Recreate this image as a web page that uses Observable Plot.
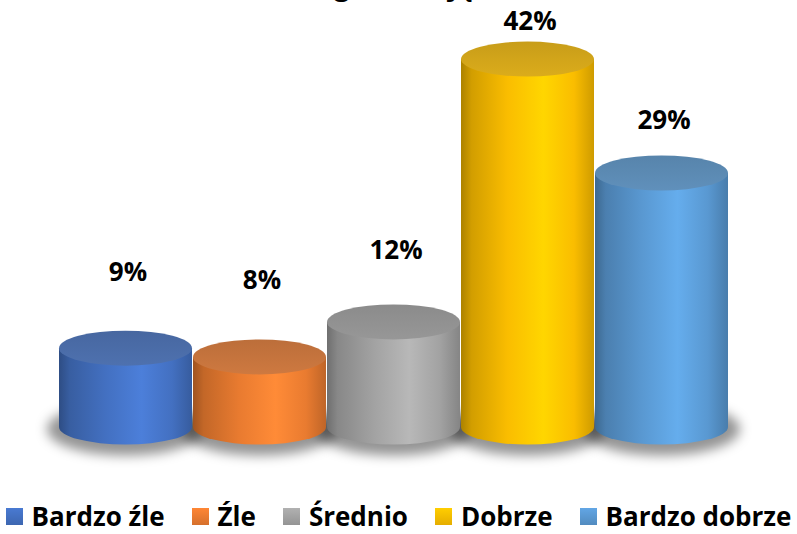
<!DOCTYPE html>
<html>
<head>
<meta charset="utf-8">
<script src="https://cdn.jsdelivr.net/npm/d3@7"></script>
<script src="https://cdn.jsdelivr.net/npm/@observablehq/plot@0.6"></script>
<style>
  body { margin: 0; background: #fff; font-family: "Open Sans", sans-serif; }
  #legend { display: flex; justify-content: center; align-items: center; gap: 27px;
            height: 36px; padding-top: 18px;
            font-weight: 700; font-size: 26px; color: #000; white-space: nowrap; }
  .item { display: flex; align-items: center; gap: 9px; }
  .sw { width: 17px; height: 17px; }
</style>
</head>
<body>
<div id="chart"></div>
<div id="legend"></div>
<script>
const title = "Ocena ogólna zajęć";
const categories = ["Bardzo źle", "Źle", "Średnio", "Dobrze", "Bardzo dobrze"];
const values = [9, 8, 12, 42, 29];
const labels = ["9%", "8%", "12%", "42%", "29%"];
const colors = ["#4472C4", "#ED7D31", "#A5A5A5", "#FFC000", "#5B9BD5"];

const data = categories.map((c, i) => ({category: c, value: values[i], label: labels[i], color: colors[i]}));

const RY = 17.5;

function cylinders(index, scales) {
  const sx = scales.x, sy = scales.y;
  const bw = typeof sx.bandwidth === "function" ? sx.bandwidth() : sx.bandwidth;
  const g = d3.create("svg:g");
  const defs = g.append("defs");
  const f = defs.append("filter").attr("id", "cylShadow")
    .attr("x", "-30%").attr("y", "-60%").attr("width", "160%").attr("height", "220%");
  f.append("feGaussianBlur").attr("stdDeviation", 6);

  data.forEach((d, i) => {
    const c = d3.color(d.color);
    const body = defs.append("linearGradient").attr("id", "body" + i)
      .attr("x1", 0).attr("x2", 1).attr("y1", 0).attr("y2", 0);
    [[0, c.darker(1.1)], [0.08, c.darker(0.55)], [0.35, c.darker(0.05)], [0.62, c.brighter(0.3)],
     [0.85, c.darker(0.05)], [1, c.darker(0.6)]].forEach(([o, col]) =>
      body.append("stop").attr("offset", o).attr("stop-color", col.formatHex()));
    const muted = d3.color(d3.interpolateRgb(d.color, "#7f7f7f")(0.22));
    const top = defs.append("linearGradient").attr("id", "top" + i)
      .attr("x1", 0).attr("x2", 0).attr("y1", 0).attr("y2", 1);
    [[0, muted.darker(0.35)], [1, muted.darker(0.1)]].forEach(([o, col]) =>
      top.append("stop").attr("offset", o).attr("stop-color", col.formatHex()));
  });

  const base = sy(0);
  // floor shadows
  data.forEach((d) => {
    const cx = sx(d.category) + bw / 2;
    g.append("ellipse").attr("cx", cx).attr("cy", base + 2)
      .attr("rx", bw / 2 + 12).attr("ry", RY + 9)
      .attr("fill", "#000").attr("fill-opacity", 0.42)
      .attr("filter", "url(#cylShadow)");
  });
  // cylinders
  data.forEach((d, i) => {
    const x0 = sx(d.category), x1 = x0 + bw, cx = x0 + bw / 2, rx = bw / 2;
    const yt = sy(d.value);
    g.append("path")
      .attr("d", `M${x0},${yt}L${x0},${base}A${rx},${RY} 0 0 0 ${x1},${base}L${x1},${yt}Z`)
      .attr("fill", `url(#body${i})`);
    g.append("ellipse").attr("cx", cx).attr("cy", yt).attr("rx", rx).attr("ry", RY)
      .attr("fill", `url(#top${i})`);
  });
  return g.node();
}

const chart = Plot.plot({
  width: 797,
  height: 480,
  marginLeft: 58,
  marginRight: 67,
  marginTop: 0,
  marginBottom: 0,
  style: {fontFamily: "Open Sans, sans-serif", background: "#fff"},
  x: {type: "band", domain: categories, paddingInner: 0.006, paddingOuter: 0, axis: null},
  y: {domain: [0, 50], range: [427, 427 - 50 * 8.76], axis: null},
  marks: [
    cylinders,
    Plot.text(data, {x: "category", y: d => d.value * 0.87 + 9.8, text: "label",
      fontSize: 26, fontWeight: 700, fill: "#000", dx: 2, lineAnchor: "middle"}),
    Plot.text([title], {frameAnchor: "top", lineAnchor: "bottom", dy: -6, dx: -40,
      fontSize: 28, fontWeight: 700, fill: "#000"})
  ]
});
document.getElementById("chart").appendChild(chart);

const legend = document.getElementById("legend");
data.forEach(d => {
  const c = d3.color(d.color);
  const item = document.createElement("div");
  item.className = "item";
  const sw = document.createElement("span");
  sw.className = "sw";
  sw.style.background = `linear-gradient(to bottom, ${c.brighter(0.2).formatHex()}, ${c.darker(0.3).formatHex()})`;
  const t = document.createElement("span");
  t.textContent = d.category;
  item.appendChild(sw);
  item.appendChild(t);
  legend.appendChild(item);
});
</script>
</body>
</html>
